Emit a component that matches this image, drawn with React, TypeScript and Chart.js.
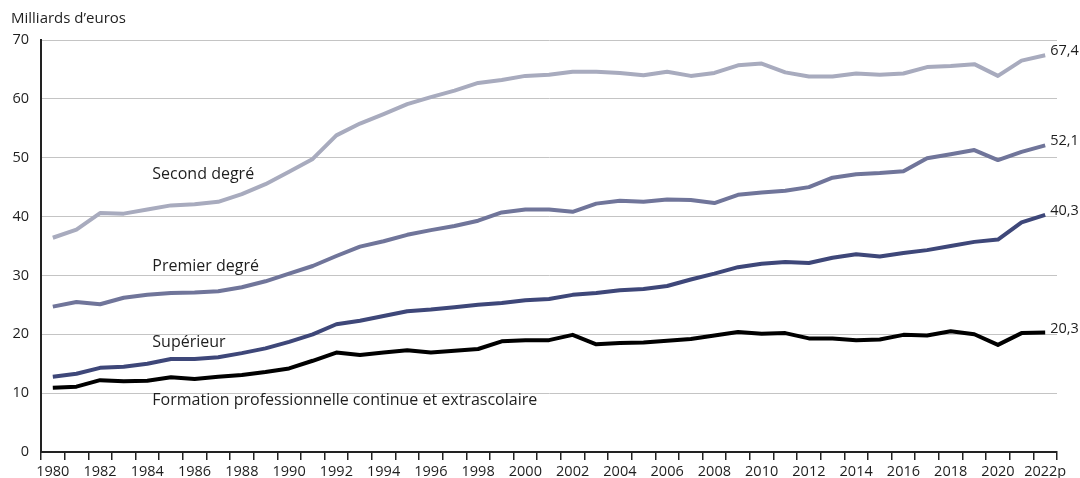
import React, { useEffect, useRef } from "react";
import { Chart, registerables } from "chart.js";

Chart.register(...registerables);

const years: string[] = [
  "1980", "1981", "1982", "1983", "1984", "1985", "1986", "1987", "1988", "1989",
  "1990", "1991", "1992", "1993", "1994", "1995", "1996", "1997", "1998", "1999",
  "2000", "2001", "2002", "2003", "2004", "2005", "2006", "2007", "2008", "2009",
  "2010", "2011", "2012", "2013", "2014", "2015", "2016", "2017", "2018", "2019",
  "2020", "2021", "2022p",
];

const secondDegre: number[] = [
  36.4, 37.8, 40.6, 40.5, 41.2, 41.9, 42.1, 42.5, 43.8, 45.5,
  47.6, 49.8, 53.8, 55.8, 57.4, 59.1, 60.3, 61.4, 62.7, 63.2,
  63.9, 64.1, 64.6, 64.6, 64.4, 64.0, 64.6, 63.9, 64.4, 65.7,
  66.0, 64.5, 63.8, 63.8, 64.3, 64.1, 64.3, 65.4, 65.6, 65.9,
  63.9, 66.5, 67.4,
];

const premierDegre: number[] = [
  24.7, 25.5, 25.1, 26.2, 26.7, 27.0, 27.1, 27.3, 28.0, 29.0,
  30.3, 31.6, 33.3, 34.9, 35.8, 36.9, 37.7, 38.4, 39.3, 40.7,
  41.2, 41.2, 40.8, 42.2, 42.7, 42.5, 42.9, 42.8, 42.3, 43.7,
  44.1, 44.4, 45.0, 46.6, 47.2, 47.4, 47.7, 49.9, 50.6, 51.3,
  49.6, 51.0, 52.1,
];

const superieur: number[] = [
  12.8, 13.3, 14.3, 14.5, 15.0, 15.8, 15.8, 16.1, 16.8, 17.6,
  18.7, 20.0, 21.7, 22.3, 23.1, 23.9, 24.2, 24.6, 25.0, 25.3,
  25.8, 26.0, 26.7, 27.0, 27.5, 27.7, 28.2, 29.3, 30.3, 31.4,
  32.0, 32.3, 32.1, 33.0, 33.6, 33.2, 33.8, 34.3, 35.0, 35.7,
  36.1, 39.0, 40.3,
];

const formation: number[] = [
  10.9, 11.1, 12.2, 12.0, 12.1, 12.7, 12.4, 12.8, 13.1, 13.6,
  14.2, 15.5, 16.9, 16.5, 16.9, 17.3, 16.9, 17.2, 17.5, 18.8,
  19.0, 19.0, 19.9, 18.3, 18.5, 18.6, 18.9, 19.2, 19.8, 20.4,
  20.1, 20.2, 19.3, 19.3, 19.0, 19.1, 19.9, 19.8, 20.5, 20.0,
  18.2, 20.2, 20.3,
];

const seriesNames: string[] = [
  "Second degré",
  "Premier degré",
  "Supérieur",
  "Formation professionnelle continue et extrascolaire",
];

// value-space anchors for in-chart series labels (category index, value)
const seriesLabelIndex: number[] = [4, 4, 4, 4];
const seriesLabelValue: number[] = [47.1, 31.5, 18.6, 8.8];

const yTicks: number[] = [0, 10, 20, 30, 40, 50, 60, 70];

const unitLabel = "Milliards d\u2019euros";

const FONT = "'Open Sans', 'DejaVu Sans', sans-serif";
const TEXT = "#1e1e1e";

export default function App() {
  const ref = useRef<HTMLCanvasElement | null>(null);

  useEffect(() => {
    document.body.style.margin = "0";
    const canvas = ref.current;
    if (!canvas) return;

    const overlay = {
      id: "overlay",
      afterDatasetsDraw(chart: any) {
        const ctx = chart.ctx;
        const xs = chart.scales.x;
        const ys = chart.scales.y;
        ctx.save();
        ctx.fillStyle = TEXT;
        // unit label
        ctx.font = `15px ${FONT}`;
        ctx.textAlign = "left";
        ctx.textBaseline = "middle";
        ctx.fillText(unitLabel, 11, 19);
        // series labels
        ctx.font = `16px ${FONT}`;
        seriesNames.forEach((name, i) => {
          const x = xs.getPixelForValue(seriesLabelIndex[i]) + 5;
          const y = ys.getPixelForValue(seriesLabelValue[i]);
          ctx.fillText(name, x, y);
        });
        // end values
        ctx.font = `14.5px ${FONT}`;
        chart.data.datasets.forEach((ds: any) => {
          const n = ds.data.length - 1;
          const v = ds.data[n];
          const x = xs.getPixelForValue(n) + 5;
          const y = ys.getPixelForValue(v) - 4;
          ctx.fillText(String(v.toFixed(1)).replace(".", ","), x, y);
        });
        ctx.restore();
      },
    };

    const mk = (data: number[], color: string) => ({
      data,
      borderColor: color,
      backgroundColor: color,
      borderWidth: 4,
      pointRadius: 0,
      tension: 0,
      fill: false,
      borderJoinStyle: "round" as const,
      clip: false as any,
    });

    const chart = new Chart(canvas, {
      type: "line",
      data: {
        labels: years,
        datasets: [
          mk(secondDegre, "#a8abbe"),
          mk(premierDegre, "#70759a"),
          mk(superieur, "#3e4779"),
          mk(formation, "#000000"),
        ],
      },
      plugins: [overlay],
      options: {
        animation: false,
        responsive: false,
        maintainAspectRatio: false,
        layout: { padding: { top: 40, right: 23, left: 0, bottom: 0 } },
        plugins: {
          legend: { display: false },
          tooltip: { enabled: false },
          title: { display: false },
        },
        scales: {
          x: {
            type: "category",
            offset: true,
            grid: {
              offset: true,
              drawOnChartArea: false,
              drawTicks: true,
              tickLength: 8,
              color: "#222",
              lineWidth: 1.5,
            },
            border: { display: true, color: "#222", width: 2 },
            ticks: {
              autoSkip: false,
              maxRotation: 0,
              minRotation: 0,
              padding: 3,
              color: TEXT,
              font: { family: FONT, size: 14.5 },
              callback: (_v: any, i: number) => (i % 2 === 0 ? years[i] : ""),
            },
            afterFit: (s: any) => {
              s.height = 26;
            },
          },
          y: {
            min: 0,
            max: 70,
            afterBuildTicks: (s: any) => {
              s.ticks = yTicks.map((v) => ({ value: v }));
            },
            grid: {
              color: "#c4c4c4",
              lineWidth: 1,
              drawTicks: false,
            },
            border: { display: true, color: "#222", width: 2 },
            ticks: {
              padding: 12,
              color: TEXT,
              font: { family: FONT, size: 14.5 },
            },
            afterFit: (s: any) => {
              s.width = 41;
            },
          },
        },
      },
    });

    return () => chart.destroy();
  }, []);

  return (
    <div style={{ width: 1080, height: 478 }}>
      <canvas ref={ref} width={1080} height={478} style={{ display: "block" }} />
    </div>
  );
}
